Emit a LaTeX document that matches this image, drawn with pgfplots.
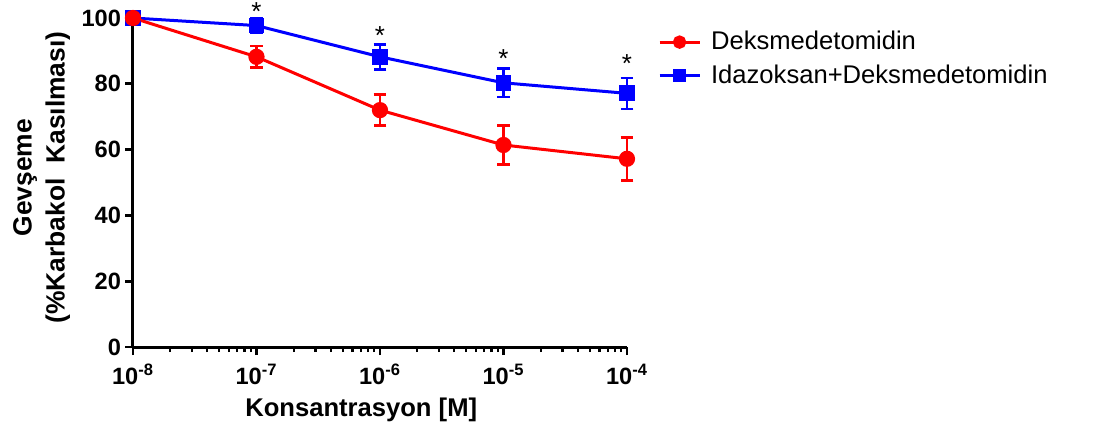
\documentclass[border=0pt]{standalone}
\usepackage{fontspec}
\setmainfont{Liberation Sans}
\usepackage{pgfplots}
\pgfplotsset{compat=1.18}
\definecolor{myred}{RGB}{255,0,0}
\definecolor{myblue}{RGB}{0,0,255}
\begin{document}
\begin{tikzpicture}
\useasboundingbox (0pt,0pt) rectangle (548pt,218pt);
\begin{axis}[
  at={(66.5pt,44.5pt)}, anchor=south west,
  scale only axis, width=247pt, height=164.5pt,
  xmode=log, xmin=1e-8, xmax=1e-4, ymin=0, ymax=100,
  axis x line*=bottom, axis y line*=left,
  axis line style={-, line width=1.5pt, black},
  clip=false,
  tick align=outside,
  major tick length=4pt, minor tick length=2.5pt,
  every major tick/.style={line width=1.4pt, black},
  every minor tick/.style={line width=1.1pt, black},
  xtick={1e-8,1e-7,1e-6,1e-5,1e-4},
  xticklabels={10\textsuperscript{-8},10\textsuperscript{-7},10\textsuperscript{-6},10\textsuperscript{-5},10\textsuperscript{-4}},
  minor xtick={2e-8,3e-8,4e-8,5e-8,6e-8,7e-8,8e-8,9e-8,
               2e-7,3e-7,4e-7,5e-7,6e-7,7e-7,8e-7,9e-7,
               2e-6,3e-6,4e-6,5e-6,6e-6,7e-6,8e-6,9e-6,
               2e-5,3e-5,4e-5,5e-5,6e-5,7e-5,8e-5,9e-5},
  ytick={0,20,40,60,80,100},
  /pgf/number format/assume math mode=true,
  tick label style={font=\fontsize{11.8}{13}\selectfont\bfseries},
  xticklabel style={yshift=-1pt},
  yticklabel style={xshift=1.5pt},
  xlabel={Konsantrasyon [M]},
  ylabel={Gevşeme\\(\%Karbakol\ \ Kasılması)},
  xlabel style={font=\fontsize{12.8}{16.5}\selectfont\bfseries,
    at={(axis description cs:0.462,-0.19)}, anchor=center},
  ylabel style={font=\fontsize{13.2}{16.5}\selectfont\bfseries,
    at={(axis description cs:-0.185,0.515)}, anchor=center, align=center},
  legend style={draw=none, fill=none, at={(1.05,0.985)}, anchor=north west,
    font=\fontsize{12.8}{14}\selectfont, row sep=2pt, column sep=3pt},
  legend cell align=left,
  reverse legend,
  legend image code/.code={\draw[mark repeat=2,mark phase=2, mark size=2.6pt] plot coordinates {(0pt,0pt)(10pt,0pt)(20pt,0pt)};},
  error bars/error bar style={line width=1.3pt},
  error bars/error mark options={rotate=90, mark size=3.2pt, line width=1.3pt},
]
\addplot[myblue, line width=1.5pt, mark=square*, mark size=3.2pt,
  error bars/.cd, y dir=both, y explicit] coordinates {
  (1e-8,100) +- (0,0)
  (1e-7,97.7) +- (0,2.1)
  (1e-6,88.2) +- (0,3.8)
  (1e-5,80.3) +- (0,4.3)
  (1e-4,77.1) +- (0,4.7)
};
\addlegendentry{Idazoksan+Deksmedetomidin}
\addplot[myred, line width=1.5pt, mark=*, mark size=3.3pt,
  error bars/.cd, y dir=both, y explicit] coordinates {
  (1e-8,100) +- (0,0)
  (1e-7,88.2) +- (0,3.3)
  (1e-6,72.0) +- (0,4.7)
  (1e-5,61.4) +- (0,6.0)
  (1e-4,57.2) +- (0,6.5)
};
\addlegendentry{Deksmedetomidin}
\addplot[draw=none, mark=none, forget plot, nodes near coords={*},
  every node near coord/.style={anchor=center, black, font=\fontsize{13}{14}\selectfont}]
  coordinates {(1e-7,102.0) (1e-6,94.6) (1e-5,87.8) (1e-4,86.2)};
\end{axis}
\end{tikzpicture}
\end{document}
